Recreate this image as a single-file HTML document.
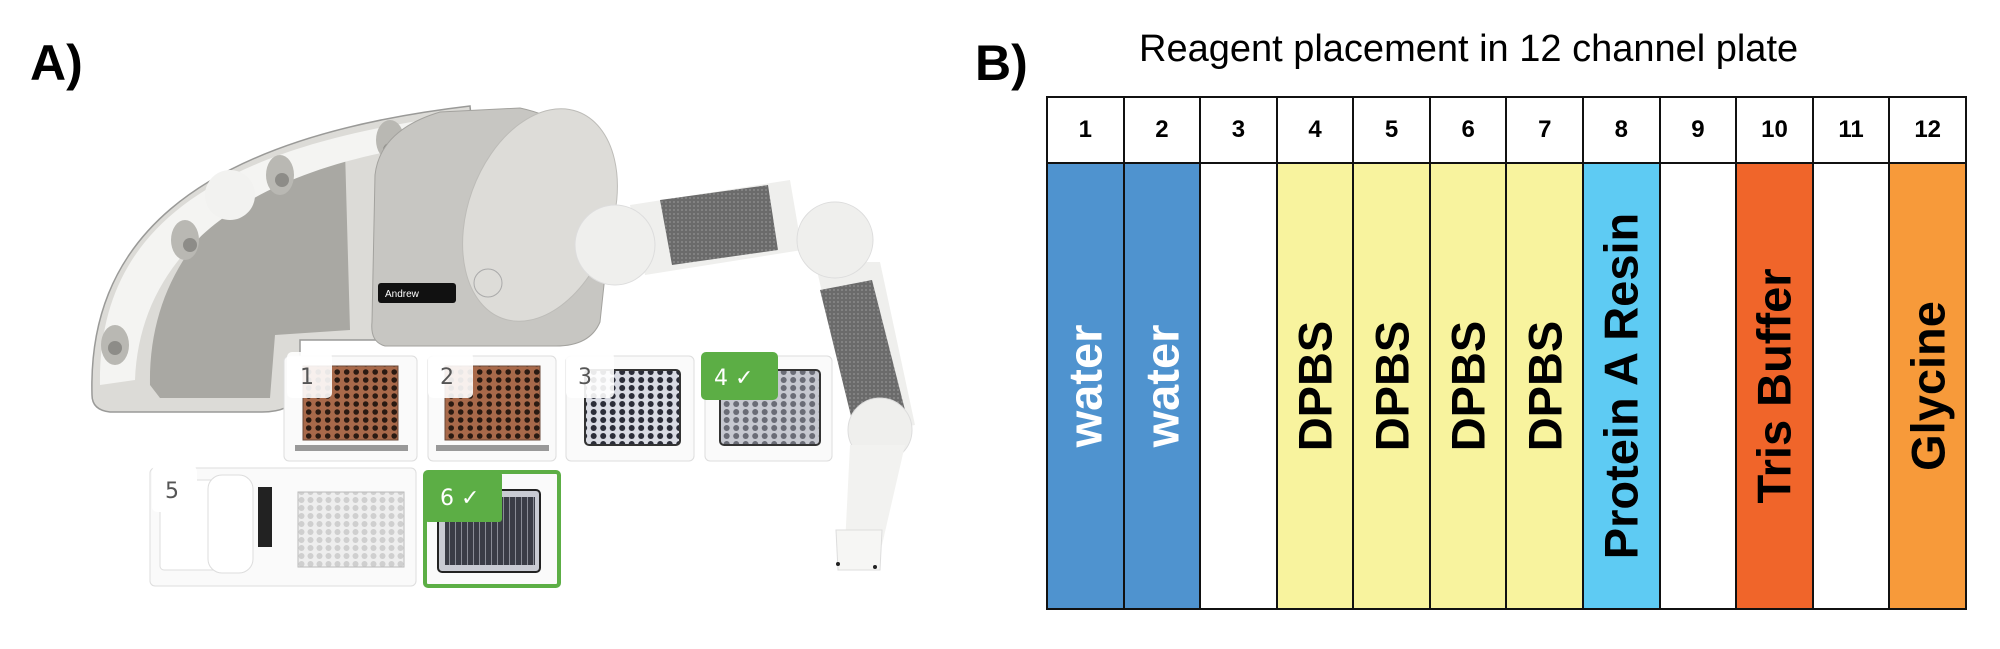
<!DOCTYPE html>
<html><head><meta charset="utf-8"><style>
html,body{margin:0;padding:0;background:#fff;}
body{width:2000px;height:649px;position:relative;overflow:hidden;font-family:"Liberation Sans",Arial,sans-serif;}
.lbl{position:absolute;font-weight:bold;font-size:50px;color:#000;}
.title{position:absolute;left:1139px;top:28px;font-size:38px;color:#000;white-space:nowrap;}
table{position:absolute;left:1046px;top:96px;width:921px;height:514px;border-collapse:collapse;table-layout:fixed;}
td{border:2.5px solid #111;padding:0;text-align:center;}
tr.h td{height:64px;font-weight:bold;font-size:24px;}
td.b{position:relative;}
td.b span{position:absolute;left:50%;top:50%;transform:translate(-50%,-50%) rotate(-90deg);white-space:nowrap;font-weight:bold;font-size:47px;}
</style></head><body>
<div class="lbl" style="left:30px;top:34px;">A)</div>
<div class="lbl" style="left:975px;top:34px;">B)</div>
<div class="title">Reagent placement in 12 channel plate</div>

<svg style="position:absolute;left:0;top:0" width="1000" height="649" viewBox="0 0 1000 649">
<defs>
<pattern id="wb" width="9.5" height="8" patternUnits="userSpaceOnUse"><rect width="9.5" height="8" fill="#a8694a"/><circle cx="4.7" cy="4" r="2.8" fill="#2a1a12"/></pattern>
<pattern id="wd" width="9.5" height="8" patternUnits="userSpaceOnUse"><rect width="9.5" height="8" fill="#d9dbe3"/><circle cx="4.7" cy="4" r="3" fill="#2b2d38"/></pattern>
<pattern id="wg" width="9.5" height="8" patternUnits="userSpaceOnUse"><rect width="9.5" height="8" fill="#c6c8d0"/><circle cx="4.7" cy="4" r="3" fill="#6a6c76"/></pattern>
<pattern id="wl" width="9" height="8" patternUnits="userSpaceOnUse"><rect width="9" height="8" fill="#eeeeee"/><circle cx="4.5" cy="4" r="3" fill="#cfcfcf"/></pattern>
<pattern id="st" width="6" height="10" patternUnits="userSpaceOnUse"><rect width="6" height="10" fill="#3a3c46"/><rect x="5" width="1" height="10" fill="#8a8c96"/></pattern>
<pattern id="mesh" width="4" height="4" patternUnits="userSpaceOnUse"><rect width="4" height="4" fill="#6b6b6b"/><circle cx="2" cy="2" r="1" fill="#8a8a8a"/></pattern>
</defs>
<path d="M92,395 C88,250 180,140 470,106 L492,330 L420,340 L300,340 L300,395 Q290,412 262,412 L110,412 Q92,410 92,395 Z" fill="#dcdbd7" stroke="#9a9a98" stroke-width="1.5"/>
<path d="M150,385 C148,270 220,185 345,150 L350,330 L275,335 L270,398 L160,398 Z" fill="#a9a8a3"/>
<path d="M100,385 C98,250 180,150 460,115 L470,140 C250,160 140,250 135,380 Z" fill="#f4f4f2"/>
<ellipse cx="115" cy="345" rx="14" ry="20" fill="#b9b8b3"/><circle cx="115" cy="348" r="7" fill="#8d8c88"/>
<ellipse cx="185" cy="240" rx="14" ry="20" fill="#b9b8b3"/><circle cx="190" cy="245" r="7" fill="#8d8c88"/>
<ellipse cx="280" cy="175" rx="14" ry="20" fill="#b9b8b3"/><circle cx="282" cy="180" r="7" fill="#8d8c88"/>
<ellipse cx="390" cy="140" rx="14" ry="20" fill="#b9b8b3"/><circle cx="390" cy="150" r="7" fill="#8d8c88"/>
<circle cx="230" cy="195" r="25" fill="#f2f2f0"/><circle cx="450" cy="145" r="24" fill="#f2f2f0"/>
<path d="M375,175 Q380,130 440,112 L520,108 Q600,125 612,210 L600,322 Q590,346 556,346 L385,346 Q370,342 372,322 Z" fill="#c7c6c2" stroke="#a3a29e"/>
<ellipse cx="540" cy="215" rx="72" ry="110" transform="rotate(20 540 215)" fill="#dddcd8" stroke="#bdbcb8"/>
<circle cx="488" cy="283" r="14" fill="none" stroke="#aaa"/>
<rect x="378" y="283" width="78" height="20" rx="3" fill="#111"/>
<text x="385" y="297" font-size="10" fill="#fff" font-family="Liberation Sans">Andrew</text>
<path d="M630,205 L790,180 L802,250 L645,275 Z" fill="#efefed"/>
<path d="M660,200 L768,185 L778,250 L672,265 Z" fill="url(#mesh)"/>
<circle cx="615" cy="245" r="40" fill="#efefed" stroke="#ddd"/>
<path d="M815,262 L880,262 L915,425 L855,435 Z" fill="#efefed"/>
<path d="M820,290 L872,280 L905,410 L852,420 Z" fill="url(#mesh)"/>
<circle cx="835" cy="240" r="38" fill="#efefed" stroke="#ddd"/>
<circle cx="880" cy="430" r="32" fill="#efefed" stroke="#ddd"/>
<path d="M850,445 L905,445 L882,545 L845,545 Z" fill="#f2f2f0"/>
<path d="M836,530 L882,530 L880,570 L838,570 Z" fill="#f6f6f4" stroke="#ddd"/>
<circle cx="838" cy="564" r="2" fill="#222"/><circle cx="875" cy="567" r="2" fill="#222"/>
<g stroke="#ddd">
<rect x="284" y="356" width="133" height="105" rx="5" fill="#fafafa"/>
<rect x="428" y="356" width="128" height="105" rx="5" fill="#fafafa"/>
<rect x="566" y="356" width="128" height="105" rx="5" fill="#fafafa"/>
<rect x="705" y="356" width="127" height="105" rx="5" fill="#fafafa"/>
<rect x="150" y="468" width="266" height="118" rx="5" fill="#fafafa"/>
</g>
<rect x="303" y="366" width="95" height="74" fill="url(#wb)" stroke="#6b4a3a"/>
<rect x="445" y="366" width="95" height="74" fill="url(#wb)" stroke="#6b4a3a"/>
<rect x="585" y="370" width="95" height="75" rx="4" fill="url(#wd)" stroke="#333" stroke-width="2"/>
<rect x="720" y="370" width="100" height="75" rx="4" fill="url(#wg)" stroke="#333" stroke-width="2"/>
<rect x="295" y="445" width="113" height="6" fill="#999"/>
<rect x="436" y="445" width="113" height="6" fill="#999"/>
<rect x="160" y="480" width="70" height="90" rx="4" fill="#fff" stroke="#ddd"/>
<rect x="208" y="475" width="45" height="98" rx="14" fill="#fff" stroke="#ddd"/>
<rect x="258" y="487" width="14" height="60" fill="#222"/>
<rect x="298" y="492" width="106" height="75" fill="url(#wl)" stroke="#bbb"/>
<rect x="425" y="472" width="134" height="114" rx="3" fill="#fafafa" stroke="#5cae45" stroke-width="4"/>
<rect x="438" y="490" width="102" height="82" rx="4" fill="#c9cbd3" stroke="#222" stroke-width="2"/>
<rect x="445" y="497" width="90" height="68" fill="url(#st)"/>
<rect x="287" y="352" width="45" height="46" rx="5" fill="#fff" opacity="0.9"/>
<text x="300" y="384" font-size="22" fill="#555" font-family="DejaVu Sans">1</text>
<rect x="428" y="352" width="45" height="46" rx="5" fill="#fff" opacity="0.9"/>
<text x="440" y="384" font-size="22" fill="#555" font-family="DejaVu Sans">2</text>
<rect x="566" y="352" width="48" height="46" rx="5" fill="#fff" opacity="0.9"/>
<text x="578" y="384" font-size="22" fill="#555" font-family="DejaVu Sans">3</text>
<rect x="701" y="352" width="77" height="48" rx="5" fill="#5cae45"/>
<text x="714" y="385" font-size="22" fill="#fff" font-family="DejaVu Sans">4 ✓</text>
<rect x="152" y="466" width="45" height="46" rx="5" fill="#fff"/>
<text x="165" y="498" font-size="22" fill="#555" font-family="DejaVu Sans">5</text>
<rect x="425" y="472" width="77" height="50" rx="3" fill="#5cae45"/>
<text x="440" y="505" font-size="22" fill="#fff" font-family="DejaVu Sans">6 ✓</text>
</svg>

<table>
<tr class="h"><td>1</td><td>2</td><td>3</td><td>4</td><td>5</td><td>6</td><td>7</td><td>8</td><td>9</td><td>10</td><td>11</td><td>12</td></tr>
<tr>
<td class="b" style="background:#4f93cf"><span style="color:#fff">water</span></td>
<td class="b" style="background:#4f93cf"><span style="color:#fff">water</span></td>
<td class="b"></td>
<td class="b" style="background:#f8f39e"><span>DPBS</span></td>
<td class="b" style="background:#f8f39e"><span>DPBS</span></td>
<td class="b" style="background:#f8f39e"><span>DPBS</span></td>
<td class="b" style="background:#f8f39e"><span>DPBS</span></td>
<td class="b" style="background:#5ecbf3"><span>Protein A Resin</span></td>
<td class="b"></td>
<td class="b" style="background:#f0652a"><span>Tris Buffer</span></td>
<td class="b"></td>
<td class="b" style="background:#f79a3a"><span>Glycine</span></td>
</tr>
</table>
</body></html>
